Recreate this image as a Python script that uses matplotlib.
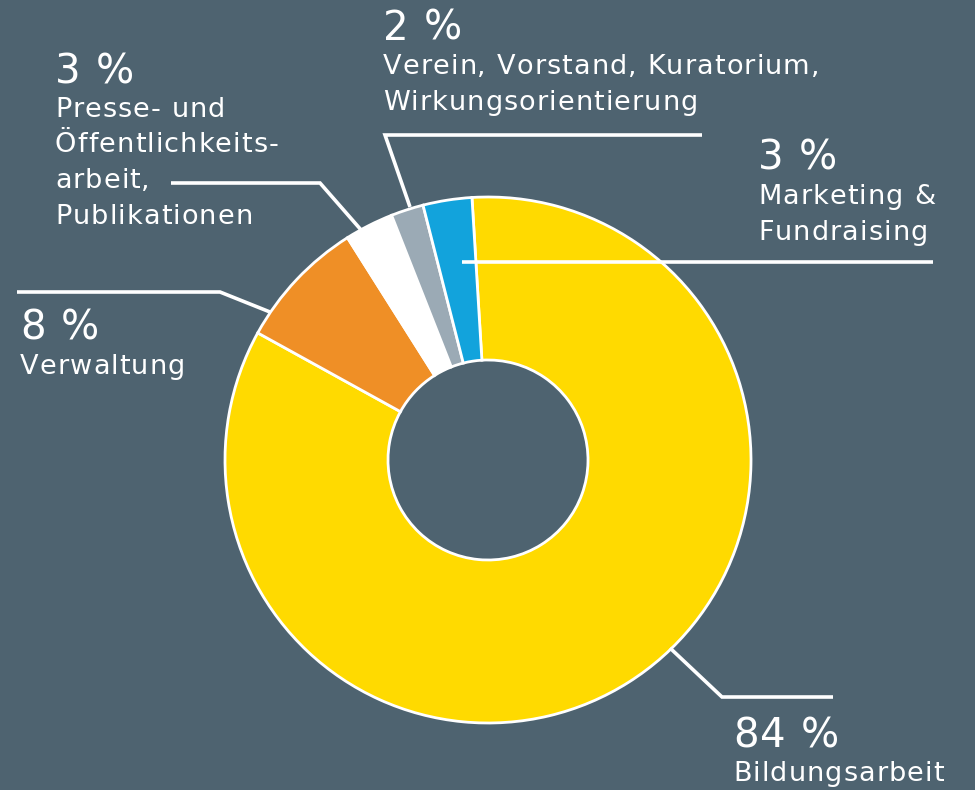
import matplotlib
matplotlib.use('Agg')
import matplotlib.pyplot as plt
from matplotlib.font_manager import FontProperties, findfont
from matplotlib.ft2font import FT2Font

# shares in percent, clockwise from the top
labels = ['Bildungsarbeit', 'Verwaltung',
          'Presse- und\nÖffentlichkeits-\narbeit,\nPublikationen',
          'Verein, Vorstand, Kuratorium,\nWirkungsorientierung',
          'Marketing &\nFundraising']
shares = [84, 8, 3, 2, 3]
colors = ['#FFDA00', '#EF8F26', '#FFFFFF', '#9BAAB5', '#12A3DC']

bg = '#4E6370'
W, H = 975, 790
DPI = 100

fig = plt.figure(figsize=(W / DPI, H / DPI), dpi=DPI, facecolor=bg)
ax = fig.add_axes([0, 0, 1, 1])
ax.set_facecolor(bg)

# donut
ax.pie(shares, colors=colors, startangle=93.5, counterclock=False,
       center=(488, H - 460), radius=263, frame=True,
       wedgeprops=dict(width=163, edgecolor='white', linewidth=2))
ax.set_xlim(0, W)
ax.set_ylim(0, H)
ax.set_aspect('equal')
ax.axis('off')

# leader lines (pixel coords, top-left origin)
leaders = [
    [(670, 648), (722, 697), (833, 697)],
    [(270, 312), (220, 292), (17, 292)],
    [(362, 231), (320, 183), (171, 183)],
    [(410, 207), (385, 135), (702, 135)],
    [(462, 262), (933, 262)],
]
for pts in leaders:
    xs = [p[0] for p in pts]
    ys = [H - p[1] for p in pts]
    ax.plot(xs, ys, color='white', lw=2.6, solid_capstyle='butt',
            solid_joinstyle='miter', zorder=5)

# letter-spaced text (the original uses a wide, tracked typeface)
fp = FontProperties(family='DejaVu Sans')
ft = FT2Font(findfont(fp))


def tracked(x, y, s, size, track):
    ft.set_size(size, DPI)
    for ch in s:
        ax.text(x, y, ch, color='white', fontsize=size, fontproperties=fp,
                va='baseline', ha='left')
        adv = ft.load_char(ord(ch)).linearHoriAdvance / 65536
        x += adv + track


# text blocks: left x, baseline of the percent line
blocks = [(733, 747), (20, 340), (55, 83), (383, 40), (758, 170)]
for (x, yb), lab, val in zip(blocks, labels, shares):
    tracked(x, H - yb, f'{val} %', 29, 1.2)
    for i, line in enumerate(lab.split('\n')):
        tracked(x, H - (yb + 34 + i * 35.5), line, 19.5, 1.1)

fig.savefig('out.png', dpi=DPI, facecolor=bg)
